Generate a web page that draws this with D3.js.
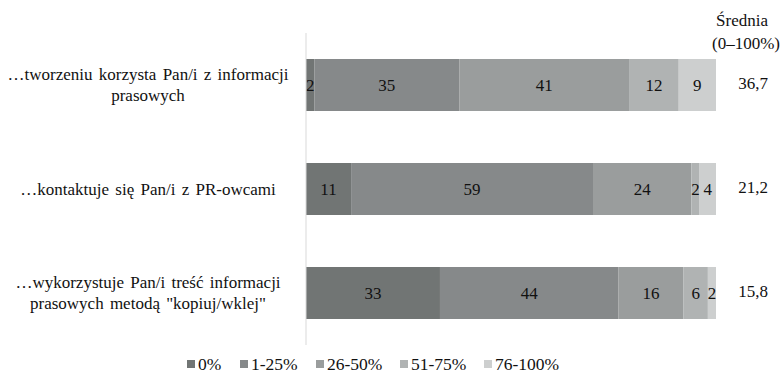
<!DOCTYPE html>
<html>
<head>
<meta charset="utf-8">
<script src="https://cdn.jsdelivr.net/npm/d3@7"></script>
<style>
  body { margin: 0; background: #fff; }
</style>
</head>
<body>
<div id="chart"></div>
<script>
const categories = [
  ['…tworzeniu korzysta Pan/i z informacji', 'prasowych'],
  ['…kontaktuje się Pan/i z PR-owcami'],
  ['…wykorzystuje Pan/i treść informacji', 'prasowych metodą "kopiuj/wklej"']
];
const seriesNames = ['0%', '1-25%', '26-50%', '51-75%', '76-100%'];
const values = [
  [2, 35, 41, 12, 9],
  [11, 59, 24, 2, 4],
  [33, 44, 16, 6, 2]
];
const means = ['36,7', '21,2', '15,8'];
const colors = ['#717574', '#86898a', '#9a9d9d', '#b0b3b3', '#cdcfcf'];

const FONT = 'Liberation Serif';
const width = 783;
const height = 373;
const margin = { top: 33, right: 67, bottom: 28, left: 306 };

const svg = d3.select('#chart')
  .append('svg')
  .attr('width', width)
  .attr('height', height);

const rows = values.map((v, i) => {
  const o = { idx: i };
  seriesNames.forEach((s, j) => o[s] = v[j]);
  return o;
});

// Excel-style 100% stacked bars
const stacked = d3.stack()
  .keys(seriesNames)
  .offset(d3.stackOffsetExpand)(rows);

const x = d3.scaleLinear()
  .domain([0, 1])
  .range([margin.left, width - margin.right]);

const y = d3.scaleBand()
  .domain(d3.range(categories.length))
  .range([margin.top, height - margin.bottom])
  .paddingInner(0.5)
  .paddingOuter(0.25);

const color = d3.scaleOrdinal()
  .domain(seriesNames)
  .range(colors);

// bars
const layer = svg.selectAll('g.layer')
  .data(stacked)
  .enter()
  .append('g')
  .attr('class', 'layer');

layer.selectAll('rect')
  .data(d => d.map(p => ({ p, key: d.key })))
  .enter()
  .append('rect')
  .attr('x', d => x(d.p[0]))
  .attr('y', d => y(d.p.data.idx))
  .attr('width', d => x(d.p[1]) - x(d.p[0]))
  .attr('height', y.bandwidth())
  .attr('fill', d => color(d.key));

// value labels
layer.selectAll('text')
  .data(d => d.map(p => ({ p, key: d.key })))
  .enter()
  .append('text')
  .attr('x', d => (x(d.p[0]) + x(d.p[1])) / 2)
  .attr('y', d => y(d.p.data.idx) + y.bandwidth() / 2)
  .attr('dy', '0.35em')
  .attr('text-anchor', 'middle')
  .attr('fill', '#111')
  .attr('font-family', FONT)
  .attr('font-size', 17)
  .text(d => d.p.data[d.key]);

// category axis line
svg.append('line')
  .attr('x1', x(0)).attr('x2', x(0))
  .attr('y1', margin.top).attr('y2', height - margin.bottom)
  .attr('stroke', '#d9d9d9')
  .attr('stroke-width', 1);

// category labels
const lab = svg.selectAll('text.cat')
  .data(categories)
  .enter()
  .append('text')
  .attr('class', 'cat')
  .attr('text-anchor', 'middle')
  .attr('fill', '#111')
  .attr('font-family', FONT)
  .attr('font-size', 17)
  .attr('word-spacing', 2)
  .attr('transform', (d, i) => `translate(148,${y(i) + y.bandwidth() / 2})`);

lab.selectAll('tspan')
  .data(d => d.map((t, k) => ({ t, k, n: d.length })))
  .enter()
  .append('tspan')
  .attr('x', 0)
  .attr('y', d => (d.k - (d.n - 1) / 2) * 21)
  .attr('dy', '0.35em')
  .text(d => d.t);

// means
svg.selectAll('text.mean')
  .data(means)
  .enter()
  .append('text')
  .attr('class', 'mean')
  .attr('x', 753)
  .attr('y', (d, i) => y(i) + y.bandwidth() / 2 - 2)
  .attr('dy', '0.35em')
  .attr('text-anchor', 'middle')
  .attr('fill', '#111')
  .attr('font-family', FONT)
  .attr('font-size', 17)
  .text(d => d);

svg.append('text')
  .attr('x', 742).attr('y', 20).attr('dy', '0.35em')
  .attr('text-anchor', 'middle')
  .attr('fill', '#111')
  .attr('font-family', FONT)
  .attr('font-size', 17)
  .text('Średnia');
svg.append('text')
  .attr('x', 746).attr('y', 43).attr('dy', '0.35em')
  .attr('text-anchor', 'middle')
  .attr('fill', '#111')
  .attr('font-family', FONT)
  .attr('font-size', 17)
  .text('(0–100%)');

// legend
const legendX = [187, 240, 316, 400, 484];
const leg = svg.selectAll('g.legend')
  .data(seriesNames)
  .enter()
  .append('g')
  .attr('class', 'legend')
  .attr('transform', (d, i) => `translate(${legendX[i]},364)`);

leg.append('rect')
  .attr('x', 0).attr('y', -4)
  .attr('width', 8).attr('height', 8)
  .attr('fill', d => color(d));

leg.append('text')
  .attr('x', 11)
  .attr('dy', '0.35em')
  .attr('fill', '#111')
  .attr('font-family', FONT)
  .attr('font-size', 17.5)
  .text(d => d);
</script>
</body>
</html>
